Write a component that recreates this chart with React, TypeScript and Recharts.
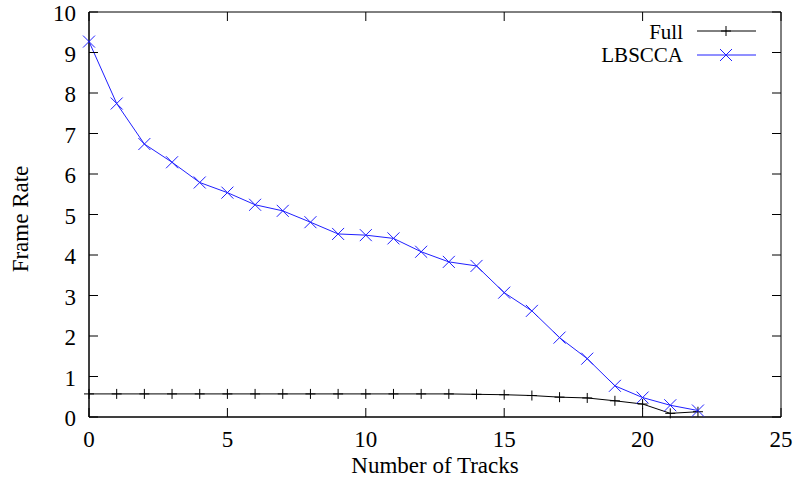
import { LineChart, Line, XAxis, YAxis, Label, ReferenceArea } from "recharts"

// values
const tracks = [0, 1, 2, 3, 4, 5, 6, 7, 8, 9, 10, 11, 12, 13, 14, 15, 16, 17, 18, 19, 20, 21, 22]
const fullRate = [0.57, 0.57, 0.57, 0.57, 0.57, 0.57, 0.57, 0.57, 0.57, 0.57, 0.57, 0.57, 0.57, 0.57, 0.56, 0.55, 0.53, 0.49, 0.47, 0.4, 0.32, 0.09, 0.13]
const lbsccaRate = [9.27, 7.74, 6.74, 6.29, 5.79, 5.54, 5.24, 5.09, 4.81, 4.52, 4.49, 4.41, 4.08, 3.83, 3.73, 3.07, 2.62, 1.96, 1.44, 0.77, 0.48, 0.29, 0.16]
const xTicks = [0, 5, 10, 15, 20, 25]
const yTicks = [0, 1, 2, 3, 4, 5, 6, 7, 8, 9, 10]
const seriesNames = ["Full", "LBSCCA"]

const BLUE = "#2020ff"
const FONT = "Liberation Serif, Times New Roman, serif"
const FS = 23
const LEGEND_FS = 21
const W = 796
const H = 479
const MARGIN = { top: 12, right: 15, left: 0, bottom: 0 }
const TICK = 9 // gnuplot style inward ticks
const BOTTOM_GAP = 14
const LEFT_GAP = 13
const PLOT_TOP = MARGIN.top
const PLOT_RIGHT = W - MARGIN.right

const data = tracks.map((x, i) => ({ x, full: fullRate[i], lbscca: lbsccaRate[i] }))

const plusDot = (props: any) => {
  const { cx, cy, index } = props
  return (
    <path key={`plus-${index}`} d={`M${cx - 5},${cy}H${cx + 5}M${cx},${cy - 5}V${cy + 5}`} stroke="#000" strokeWidth={1} fill="none" />
  )
}

const crossDot = (props: any) => {
  const { cx, cy, index } = props
  return (
    <path key={`cross-${index}`} d={`M${cx - 6},${cy - 6}L${cx + 6},${cy + 6}M${cx - 6},${cy + 6}L${cx + 6},${cy - 6}`} stroke={BLUE} strokeWidth={1} fill="none" />
  )
}

// bottom ticks: label, inward tick, mirrored tick on the top border
const bottomTick = (props: any) => {
  const { x, y, payload } = props
  const base = y - BOTTOM_GAP
  return (
    <g>
      <line x1={x} y1={base} x2={x} y2={base - TICK} stroke="#000" />
      <line x1={x} y1={PLOT_TOP} x2={x} y2={PLOT_TOP + TICK} stroke="#000" />
      <text x={x} y={y} dy="0.71em" textAnchor="middle" fontFamily={FONT} fontSize={FS} fill="#000">
        {payload.value}
      </text>
    </g>
  )
}

// left ticks: label, inward tick, mirrored tick on the right border
const leftTick = (props: any) => {
  const { x, y, payload } = props
  const base = x + LEFT_GAP
  return (
    <g>
      <line x1={base} y1={y} x2={base + TICK} y2={y} stroke="#000" />
      <line x1={PLOT_RIGHT - TICK} y1={y} x2={PLOT_RIGHT} y2={y} stroke="#000" />
      <text x={x} y={y} dy="0.4em" textAnchor="end" fontFamily={FONT} fontSize={FS} fill="#000">
        {payload.value}
      </text>
    </g>
  )
}

function LegendBox() {
  return (
    <div style={{ position: "absolute", top: 19.5, right: 40, fontFamily: FONT, fontSize: LEGEND_FS, color: "#000" }}>
      {seriesNames.map((name, i) => {
        const isFull = i === 0
        const color = isFull ? "#000" : BLUE
        return (
          <div key={`leg-${i}`} style={{ display: "flex", justifyContent: "flex-end", alignItems: "center", height: 23.4 }}>
            <span style={{ marginRight: 14, lineHeight: "23px", position: "relative", top: 1 }}>{name}</span>
            <svg width={59} height={20}>
              <line x1={0} y1={10} x2={59} y2={10} stroke={color} strokeWidth={1} />
              {isFull ? (
                <path d="M24,10H34M29,5V15" stroke={color} fill="none" />
              ) : (
                <path d="M23,4L35,16M23,16L35,4" stroke={color} fill="none" />
              )}
            </svg>
          </div>
        )
      })}
    </div>
  )
}

export default function App() {
  return (
    <div style={{ position: "absolute", left: 0, top: 0, width: W, height: H, background: "#fff" }}>
      <LineChart width={W} height={H} data={data} margin={MARGIN}>
        <XAxis
          xAxisId="b"
          dataKey="x"
          type="number"
          domain={[0, 25]}
          ticks={xTicks}
          height={62}
          stroke="#000"
          tickLine={false}
          tickSize={0}
          tickMargin={BOTTOM_GAP}
          tick={bottomTick}
        >
          <Label value="Number of Tracks" position="insideBottom" offset={6} style={{ fontFamily: FONT, fontSize: FS, fill: "#000" }} />
        </XAxis>
        <YAxis
          yAxisId="l"
          type="number"
          domain={[0, 10]}
          ticks={yTicks}
          width={89}
          stroke="#000"
          tickLine={false}
          tickSize={0}
          tickMargin={LEFT_GAP}
          tick={leftTick}
        >
          <Label
            content={() => (
              <text x={28} y={219} transform="rotate(-90, 28, 219)" textAnchor="middle" fontFamily={FONT} fontSize={FS} fill="#000">
                Frame Rate
              </text>
            )}
          />
        </YAxis>
        <ReferenceArea xAxisId="b" yAxisId="l" x1={0} x2={25} y1={0} y2={10} fill="none" stroke="#000" strokeWidth={1} ifOverflow="visible" />
        <Line xAxisId="b" yAxisId="l" type="linear" dataKey="full" name="Full" stroke="#000" strokeWidth={1} dot={plusDot} activeDot={false} isAnimationActive={false} />
        <Line xAxisId="b" yAxisId="l" type="linear" dataKey="lbscca" name="LBSCCA" stroke={BLUE} strokeWidth={1} dot={crossDot} activeDot={false} isAnimationActive={false} />
      </LineChart>
      <LegendBox />
    </div>
  )
}
